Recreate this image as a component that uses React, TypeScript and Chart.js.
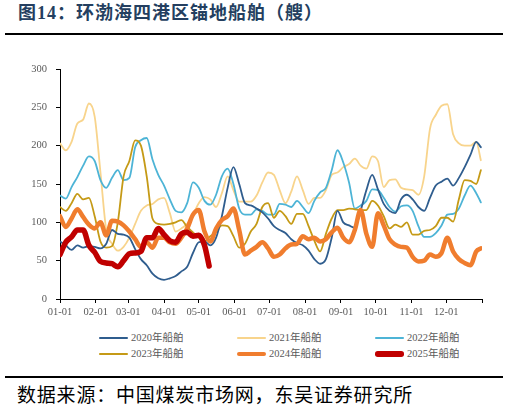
import React, { useEffect, useRef } from 'react';
import { Chart, registerables } from 'chart.js';

Chart.register(...registerables);

// x positions: day of year (0 = Jan 1)
const DAYS = [
  0, 5, 10, 15, 20, 25, 30, 35, 40, 45,
  50, 55, 60, 65, 70, 75, 80, 85, 90, 95,
  100, 105, 110, 115, 120, 125, 130, 135, 140, 145,
  150, 155, 160, 165, 170, 175, 180, 185, 190, 195,
  200, 205, 210, 215, 220, 225, 230, 235, 240, 245,
  250, 255, 260, 265, 270, 275, 280, 285, 290, 295,
  300, 305, 310, 315, 320, 325, 330, 335, 340, 345,
  350, 355, 360, 364,
];
const DAYS_2025 = [
  0, 5, 10, 15, 20, 25, 30, 35, 40, 45,
  50, 55, 60, 65, 70, 75, 80, 85, 90, 95,
  100, 105, 110, 115, 120, 125, 129,
];

const V2020 = [
  75, 70, 64, 70, 67, 69, 68, 66, 72, 90,
  85, 84, 80, 65, 52, 44, 33, 27, 25, 27,
  30, 36, 42, 60, 74, 75, 70, 80, 108, 145,
  172, 150, 125, 122, 118, 113, 105, 95, 90, 86,
  78, 73, 70, 63, 52, 46, 52, 80, 115, 100,
  96, 93, 115, 142, 162, 143, 124, 115, 112, 130,
  136, 130, 120, 115, 132, 148, 153, 157, 148, 158,
  172, 188, 205, 198,
];
const V2021 = [
  203, 194, 205, 229, 234, 255, 238, 165, 90, 72,
  63, 68, 80, 98, 115, 122, 124, 130, 132, 112,
  88, 92, 98, 110, 125, 133, 130, 120, 138, 160,
  142, 127, 127, 127, 135, 152, 165, 162, 142, 125,
  140, 160, 142, 124, 132, 132, 142, 162, 165, 172,
  176, 183, 174, 170, 186, 180, 146, 155, 156, 145,
  143, 142, 136, 160, 222, 240, 252, 254, 215, 203,
  200, 200, 205, 181,
];
const V2022 = [
  135, 131, 146, 159, 174, 186, 180, 155, 145, 158,
  168, 155, 158, 198, 207, 210, 182, 162, 148, 130,
  115, 113, 125, 152, 145, 128, 123, 136, 160, 170,
  150, 118, 110, 110, 117, 115, 110, 110, 124, 123,
  120, 128, 120, 112, 128, 139, 145, 168, 194, 178,
  152, 118, 122, 128, 143, 142, 132, 120, 114, 121,
  122, 115, 95, 81, 81, 86, 96, 110, 111, 118,
  135, 148, 138, 126,
];
const V2023 = [
  120, 115, 125, 137, 130, 132, 108, 75, 67, 69,
  100, 160, 180, 207, 200, 160, 105, 98, 97, 98,
  100, 103, 94, 87, 80, 75, 82, 87, 96, 95,
  82, 67, 72, 88, 98, 120, 125, 106, 115, 108,
  98, 111, 111, 95, 76, 62, 85, 105, 116, 116,
  118, 117, 116, 116, 128, 122, 108, 92, 97, 94,
  100, 84, 84, 89, 90, 95, 106, 106, 101, 130,
  155, 154, 150, 168,
];
const V2024 = [
  108, 94, 105, 117, 107, 97, 92, 100, 83, 102,
  101, 96, 88, 78, 68, 74, 67, 80, 80, 74,
  72, 80, 92, 110, 116, 88, 75, 92, 103, 108,
  118, 90, 58, 63, 68, 74, 66, 55, 58, 66,
  71, 72, 82, 78, 80, 75, 78, 87, 93, 80,
  74, 90, 116, 85, 68, 112, 96, 78, 71, 68,
  67, 55, 49, 50, 58, 55, 60, 80, 62, 52,
  47, 44, 62, 66,
];
const V2025 = [
  58, 74, 81, 90, 90, 70, 61, 49, 47, 46,
  42, 50, 59, 60, 62, 80, 80, 92, 84, 76,
  74, 85, 87, 82, 83, 70, 43,
];

const TICK_DAYS = [0, 31, 59, 90, 120, 151, 181, 212, 243, 273, 304, 334, 365];
const TICK_LABELS = ['01-01', '02-01', '03-01', '04-01', '05-01', '06-01', '07-01', '08-01', '09-01', '10-01', '11-01', '12-01', ''];

const SERIES_NAMES = ['2020年船舶', '2021年船舶', '2022年船舶', '2023年船舶', '2024年船舶', '2025年船舶'];
const COLORS = ['#2F5D8E', '#F8D48C', '#4DB4D6', '#C59A16', '#F07D2E', '#C00000'];
const WIDTHS = [1.8, 1.8, 1.8, 1.8, 4.5, 5.5];
const ORDERS = [2, 5, 4, 3, 1, 0];

const SERIF = '"Liberation Serif", "Times New Roman", "Noto Sans CJK SC", serif';

export default function App() {
  const ref = useRef<HTMLCanvasElement | null>(null);

  useEffect(() => {
    const canvas = ref.current;
    if (!canvas) return;
    const values = [V2020, V2021, V2022, V2023, V2024, V2025];
    const xs = [DAYS, DAYS, DAYS, DAYS, DAYS, DAYS_2025];
    const tickFont = { family: SERIF, size: 10.5 };
    const chart = new Chart(canvas, {
      type: 'line',
      data: {
        datasets: SERIES_NAMES.map((name, i) => ({
          label: name,
          data: xs[i].map((d, j) => ({ x: d, y: values[i][j] })),
          borderColor: COLORS[i],
          backgroundColor: COLORS[i],
          borderWidth: WIDTHS[i],
          pointRadius: 0,
          cubicInterpolationMode: 'monotone' as const,
          order: ORDERS[i],
          borderJoinStyle: 'round' as const,
          borderCapStyle: 'round' as const,
          fill: false,
        })),
      },
      options: {
        responsive: false,
        animation: false,
        layout: { padding: { top: 29, right: 27, left: 0, bottom: 0 } },
        plugins: { legend: { display: false }, tooltip: { enabled: false } },
        scales: {
          x: {
            type: 'linear',
            min: 0,
            max: 365,
            afterBuildTicks: (s: any) => {
              s.ticks = TICK_DAYS.map((v) => ({ value: v }));
            },
            afterFit: (s: any) => {
              s.height = 26;
            },
            ticks: {
              autoSkip: false,
              maxRotation: 0,
              padding: 3,
              color: '#595959',
              font: tickFont,
              callback: (_v: any, i: number) => TICK_LABELS[i],
            },
            grid: { drawOnChartArea: false, drawTicks: true, tickLength: 4, color: '#000', tickColor: '#000' },
            border: { display: true, color: '#000', width: 1 },
          },
          y: {
            min: 0,
            max: 300,
            afterFit: (s: any) => {
              s.width = 60;
            },
            ticks: { stepSize: 50, padding: 9, color: '#595959', font: tickFont },
            grid: { drawOnChartArea: false, drawTicks: true, tickLength: 4, color: '#000', tickColor: '#000' },
            border: { display: true, color: '#000', width: 1 },
          },
        },
      },
    } as any);
    return () => chart.destroy();
  }, []);

  return (
    <div
      style={{
        position: 'fixed',
        left: 0,
        top: 0,
        width: 509,
        height: 411,
        background: '#fff',
        overflow: 'hidden',
      }}
    >
      <div
        style={{
          position: 'absolute',
          left: 18,
          top: 4,
          fontFamily: SERIF,
          fontWeight: 'bold',
          fontSize: 18,
          lineHeight: '18px',
          letterSpacing: 1.0,
          color: '#243F60',
          whiteSpace: 'nowrap',
        }}
      >
        图14：环渤海四港区锚地船舶（艘）
      </div>
      <div style={{ position: 'absolute', left: 5, top: 33, width: 498, height: 2, background: '#000' }} />
      <canvas
        ref={ref}
        width={509}
        height={285}
        style={{ position: 'absolute', left: 0, top: 40, width: 509, height: 285 }}
      />
      <div
        style={{
          position: 'absolute',
          left: 99,
          top: 330,
          display: 'grid',
          gridTemplateColumns: '138px 138px 138px',
          gridAutoRows: '16px',
        }}
      >
        {SERIES_NAMES.map((name, i) => (
          <div key={name} style={{ display: 'flex', alignItems: 'center', height: 16 }}>
            <span
              style={{
                display: 'inline-block',
                width: 29,
                height: WIDTHS[i],
                background: COLORS[i],
                borderRadius: WIDTHS[i] / 2,
                marginRight: 3,
              }}
            />
            <span
              style={{
                fontFamily: SERIF,
                fontSize: 10.5,
                color: '#595959',
                whiteSpace: 'nowrap',
                lineHeight: '16px',
              }}
            >
              {name}
            </span>
          </div>
        ))}
      </div>
      <div style={{ position: 'absolute', left: 5, top: 376, width: 498, height: 2, background: '#000' }} />
      <div
        style={{
          position: 'absolute',
          left: 17,
          top: 386,
          fontFamily: SERIF,
          fontSize: 19,
          lineHeight: '20px',
          letterSpacing: 0.8,
          color: '#000',
          whiteSpace: 'nowrap',
        }}
      >
        数据来源：中国煤炭市场网，东吴证券研究所
      </div>
    </div>
  );
}
